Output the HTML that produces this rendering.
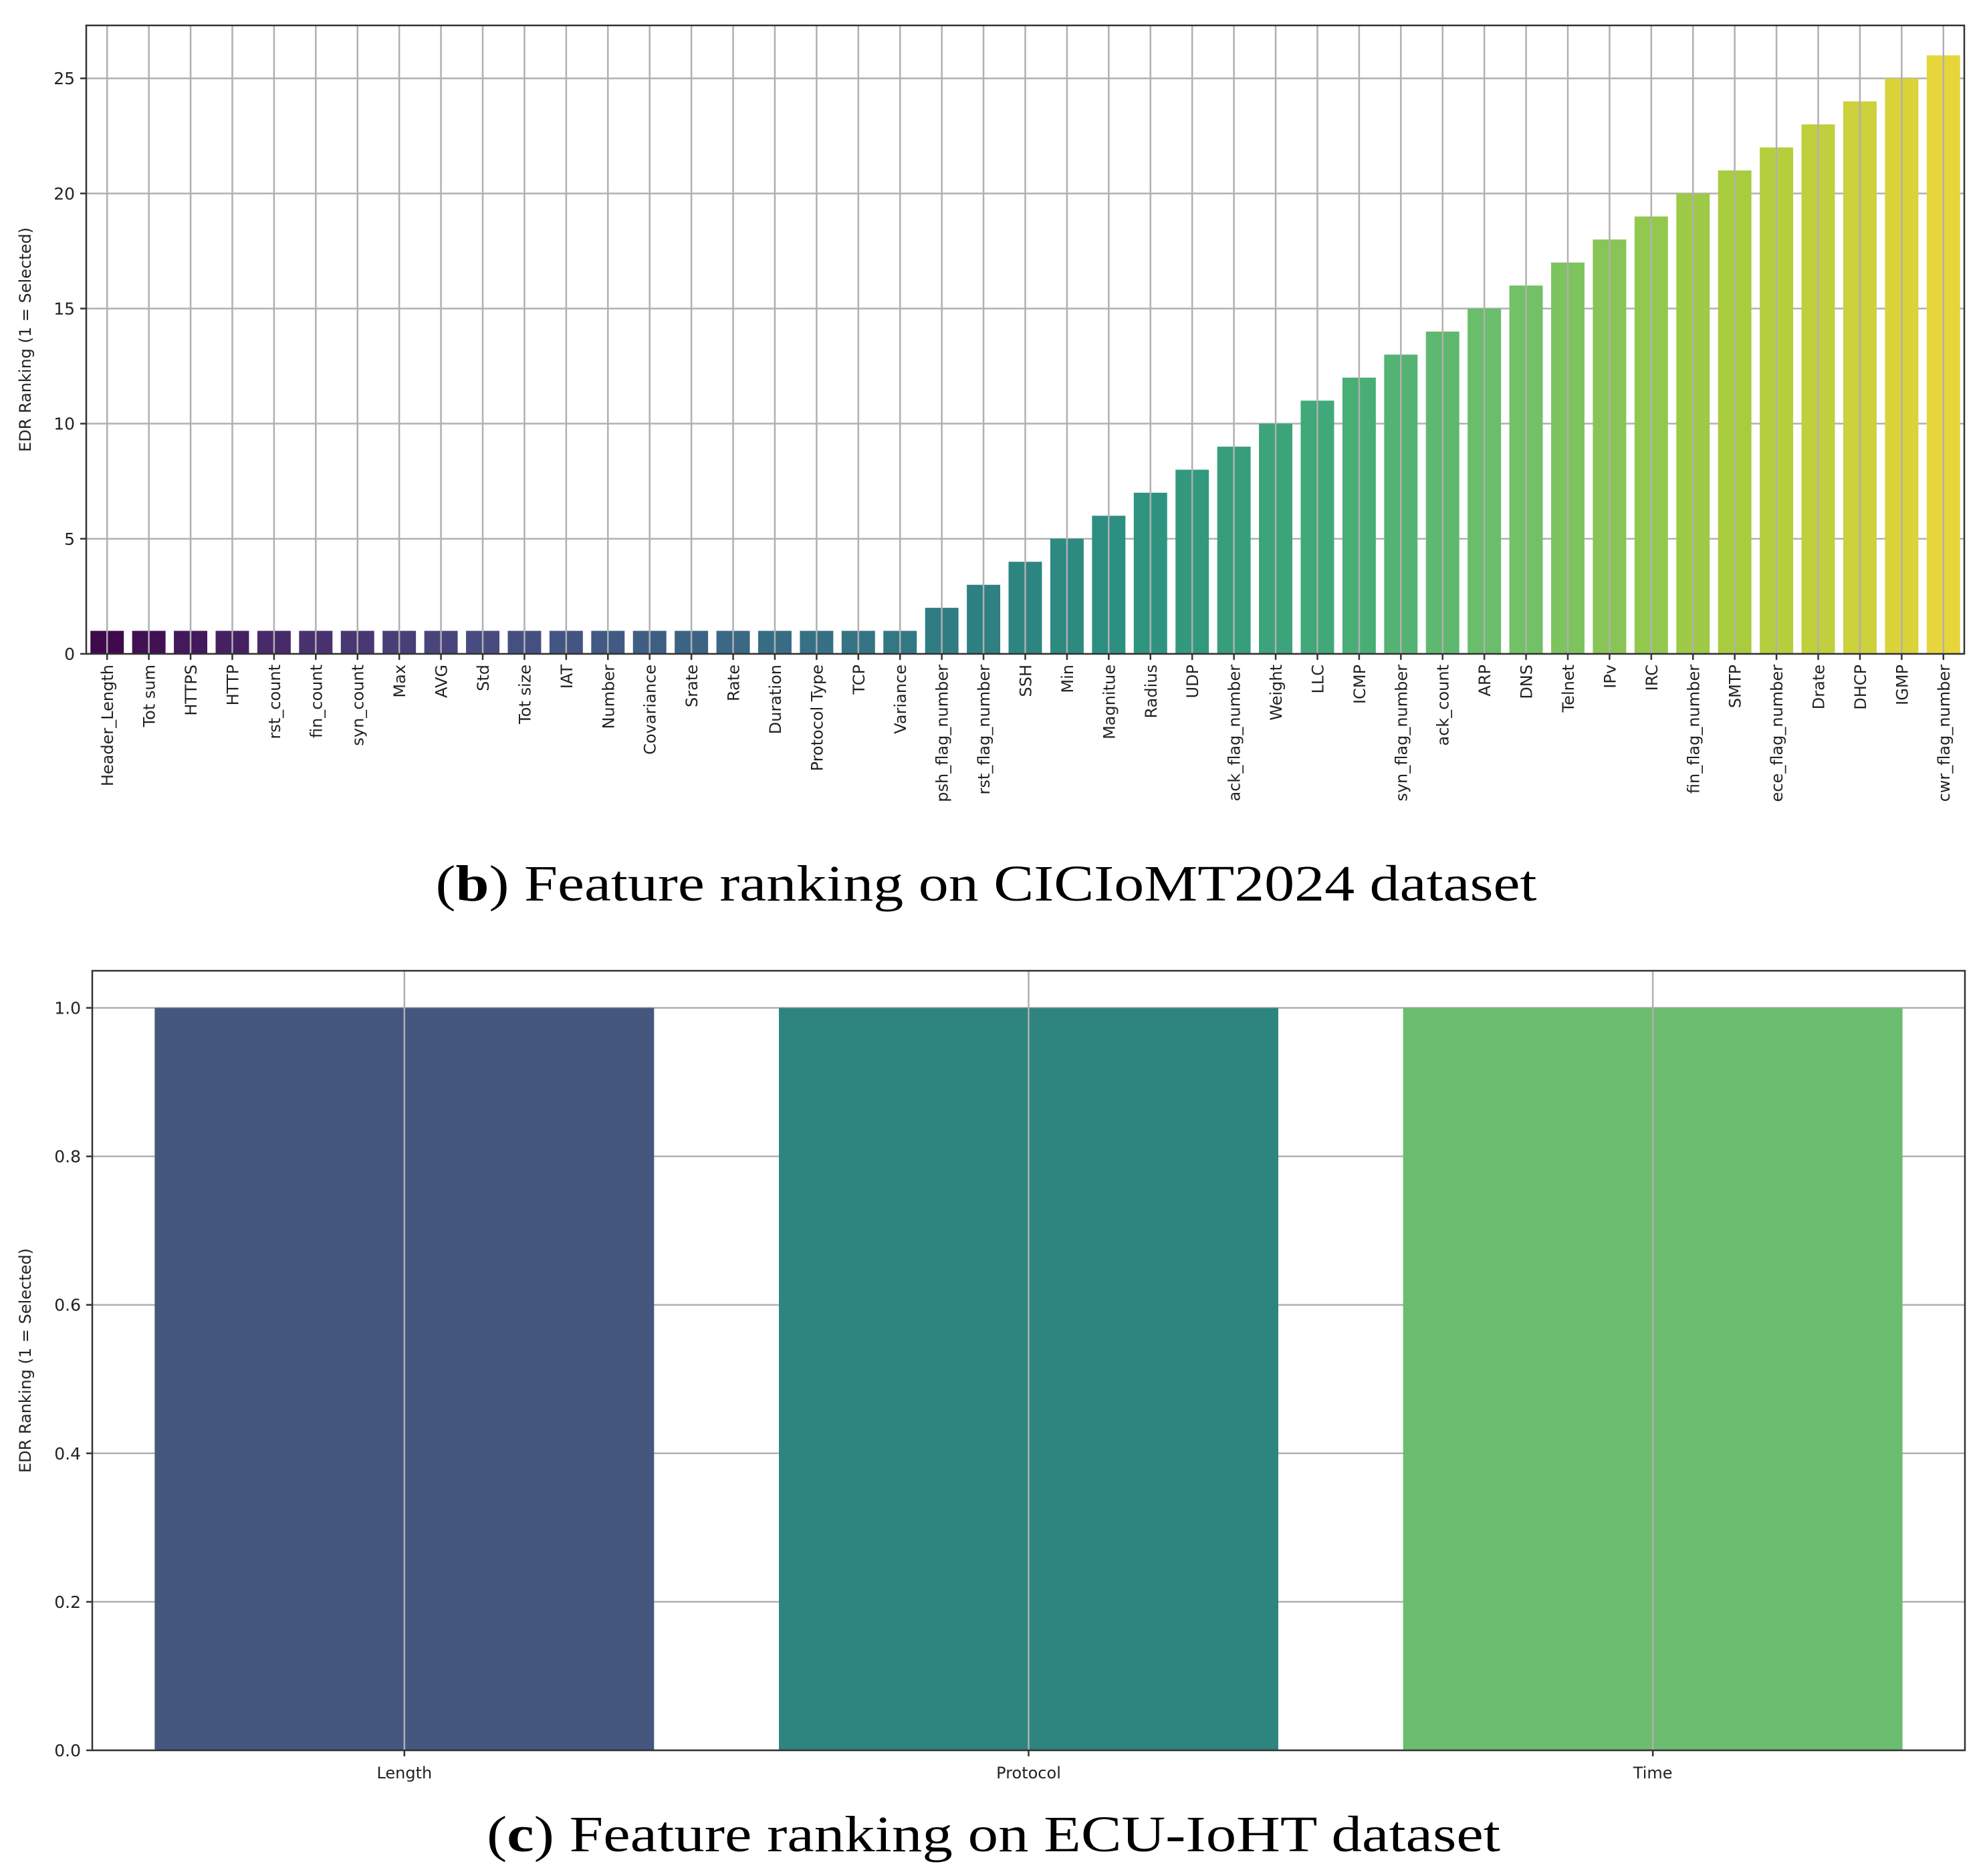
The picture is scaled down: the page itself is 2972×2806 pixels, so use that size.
<!DOCTYPE html>
<html><head><meta charset="utf-8"><style>
html,body{margin:0;padding:0;background:#fff;}
svg{display:block;}
</style></head><body>
<svg id="fig" width="2972" height="2806" viewBox="0 0 2972 2806" xmlns="http://www.w3.org/2000/svg">
<g id="chart1"></g>
<g id="chart2"></g>
<text x="1475" y="1347" font-family="Liberation Serif, serif" font-size="76" text-anchor="middle" textLength="1647" lengthAdjust="spacingAndGlyphs" fill="#000">(<tspan font-weight="bold">b</tspan>) Feature ranking on CICIoMT2024 dataset</text>
<text x="1486" y="2769" font-family="Liberation Serif, serif" font-size="76" text-anchor="middle" textLength="1516" lengthAdjust="spacingAndGlyphs" fill="#000">(<tspan font-weight="bold">c</tspan>) Feature ranking on ECU-IoHT dataset</text>
</svg>
<script>
const features1 = ["Header_Length","Tot sum","HTTPS","HTTP","rst_count","fin_count","syn_count","Max","AVG","Std","Tot size","IAT","Number","Covariance","Srate","Rate","Duration","Protocol Type","TCP","Variance","psh_flag_number","rst_flag_number","SSH","Min","Magnitue","Radius","UDP","ack_flag_number","Weight","LLC","ICMP","syn_flag_number","ack_count","ARP","DNS","Telnet","IPv","IRC","fin_flag_number","SMTP","ece_flag_number","Drate","DHCP","IGMP","cwr_flag_number"];
const ranks1 = [1,1,1,1,1,1,1,1,1,1,1,1,1,1,1,1,1,1,1,1,2,3,4,5,6,7,8,9,10,11,12,13,14,15,16,17,18,19,20,21,22,23,24,25,26];
const yTicks1 = [0,5,10,15,20,25];
const features2 = ["Length","Protocol","Time"];
const ranks2 = [1,1,1];
const yTicks2 = [0.0,0.2,0.4,0.6,0.8,1.0];
const colors2 = ["#45577e","#2e847e","#6bbc6f"];

const NS="http://www.w3.org/2000/svg";
function mk(parent,tag,attrs){const e=document.createElementNS(NS,tag);for(const k in attrs)e.setAttribute(k,attrs[k]);parent.appendChild(e);return e;}

const vir=[[68,1,84],[72,40,120],[62,74,137],[49,104,142],[38,130,142],[31,158,137],[53,183,121],[109,205,89],[180,222,44],[253,231,37]];
function viridis(t){const p=t*(vir.length-1);const i=Math.min(Math.floor(p),vir.length-2);const f=p-i;return vir[i].map((c,j)=>c+(vir[i+1][j]-c)*f);}
function desat(rgb,s){let [r,g,b]=rgb.map(v=>v/255);const mx=Math.max(r,g,b),mn=Math.min(r,g,b);let h=0,sat=0;const l=(mx+mn)/2;const d=mx-mn;
 if(d>0){sat=l>0.5?d/(2-mx-mn):d/(mx+mn);if(mx===r)h=((g-b)/d+(g<b?6:0));else if(mx===g)h=(b-r)/d+2;else h=(r-g)/d+4;h/=6;}
 sat*=s;const q=l<0.5?l*(1+sat):l+sat-l*sat,p2=2*l-q;
 function hue(t){if(t<0)t+=1;if(t>1)t-=1;if(t<1/6)return p2+(q-p2)*6*t;if(t<1/2)return q;if(t<2/3)return p2+(q-p2)*(2/3-t)*6;return p2;}
 return `rgb(${Math.round(hue(h+1/3)*255)},${Math.round(hue(h)*255)},${Math.round(hue(h-1/3)*255)})`;}

function drawChart(g,cfg){
 const {L,R,T,B,ymax,cats,vals,ticks,colorFn,rotate,tickFmt,yLabelX,name}=cfg;
 const n=cats.length;const unit=(R-L)/n;
 const xs=i=>L+(i+0.5)*unit;
 const ys=v=>B-(v/ymax)*(B-T);
 // horizontal grid
 ticks.forEach(t=>{
  const y=ys(t);
  const gl=mk(g,'line',{x1:L,x2:R,y1:y,y2:y,stroke:'#b0b0b0','stroke-width':2.5});
  
  
 });
 // bars
 vals.forEach((v,i)=>{
  const bw=unit*0.8;
  const r=mk(g,'rect',{x:xs(i)-bw/2,y:ys(v),width:bw,height:B-ys(v),fill:colorFn(i,n)});
  
  
 });
 // vertical grid on top of bars
 cats.forEach((c,i)=>{
  const vl=mk(g,'line',{x1:xs(i),x2:xs(i),y1:T,y2:B,stroke:'#b0b0b0','stroke-width':2.5});
  
  
  const tk=mk(g,'line',{x1:xs(i),x2:xs(i),y1:B,y2:B+9,stroke:'#333','stroke-width':2.5});
  
  
  let tx;
  if(rotate){
   tx=mk(g,'text',{x:0,y:0,transform:`translate(${xs(i)+9},${B+16}) rotate(-90)`,'text-anchor':'end','font-family':'DejaVu Sans, sans-serif','font-size':24,fill:'#222'});
  } else {
   tx=mk(g,'text',{x:xs(i),y:B+42,'text-anchor':'middle','font-family':'DejaVu Sans, sans-serif','font-size':24,fill:'#222'});
  }
  tx.textContent=c;
  
  
 });
 ticks.forEach(t=>{
  const y=ys(t);
  const tk=mk(g,'line',{x1:L-9,x2:L,y1:y,y2:y,stroke:'#333','stroke-width':2.5});
  
  
  const tx=mk(g,'text',{x:L-17,y:y+9,'text-anchor':'end','font-family':'DejaVu Sans, sans-serif','font-size':25,fill:'#222'});
  tx.textContent=tickFmt(t);
  
  
 });
 const fr=mk(g,'rect',{x:L,y:T,width:R-L,height:B-T,fill:'none',stroke:'#333','stroke-width':2.5});
 
 
 const yl=mk(g,'text',{x:0,y:0,transform:`translate(${yLabelX},${(T+B)/2}) rotate(-90)`,'text-anchor':'middle','font-family':'DejaVu Sans, sans-serif','font-size':24,fill:'#222'});
 yl.textContent='EDR Ranking (1 = Selected)';
 
 
}

drawChart(document.getElementById('chart1'),{L:129,R:2938,T:38,B:978,ymax:27.3,cats:features1,vals:ranks1,ticks:yTicks1,
 colorFn:(i,n)=>desat(viridis(i/(n-1)),0.8),rotate:true,tickFmt:t=>String(t),yLabelX:46});
drawChart(document.getElementById('chart2'),{L:138,R:2939,T:1452,B:2618,ymax:1.05,cats:features2,vals:ranks2,ticks:yTicks2,
 colorFn:(i)=>colors2[i],rotate:false,tickFmt:t=>t.toFixed(1),yLabelX:46});
</script>
</body></html>
